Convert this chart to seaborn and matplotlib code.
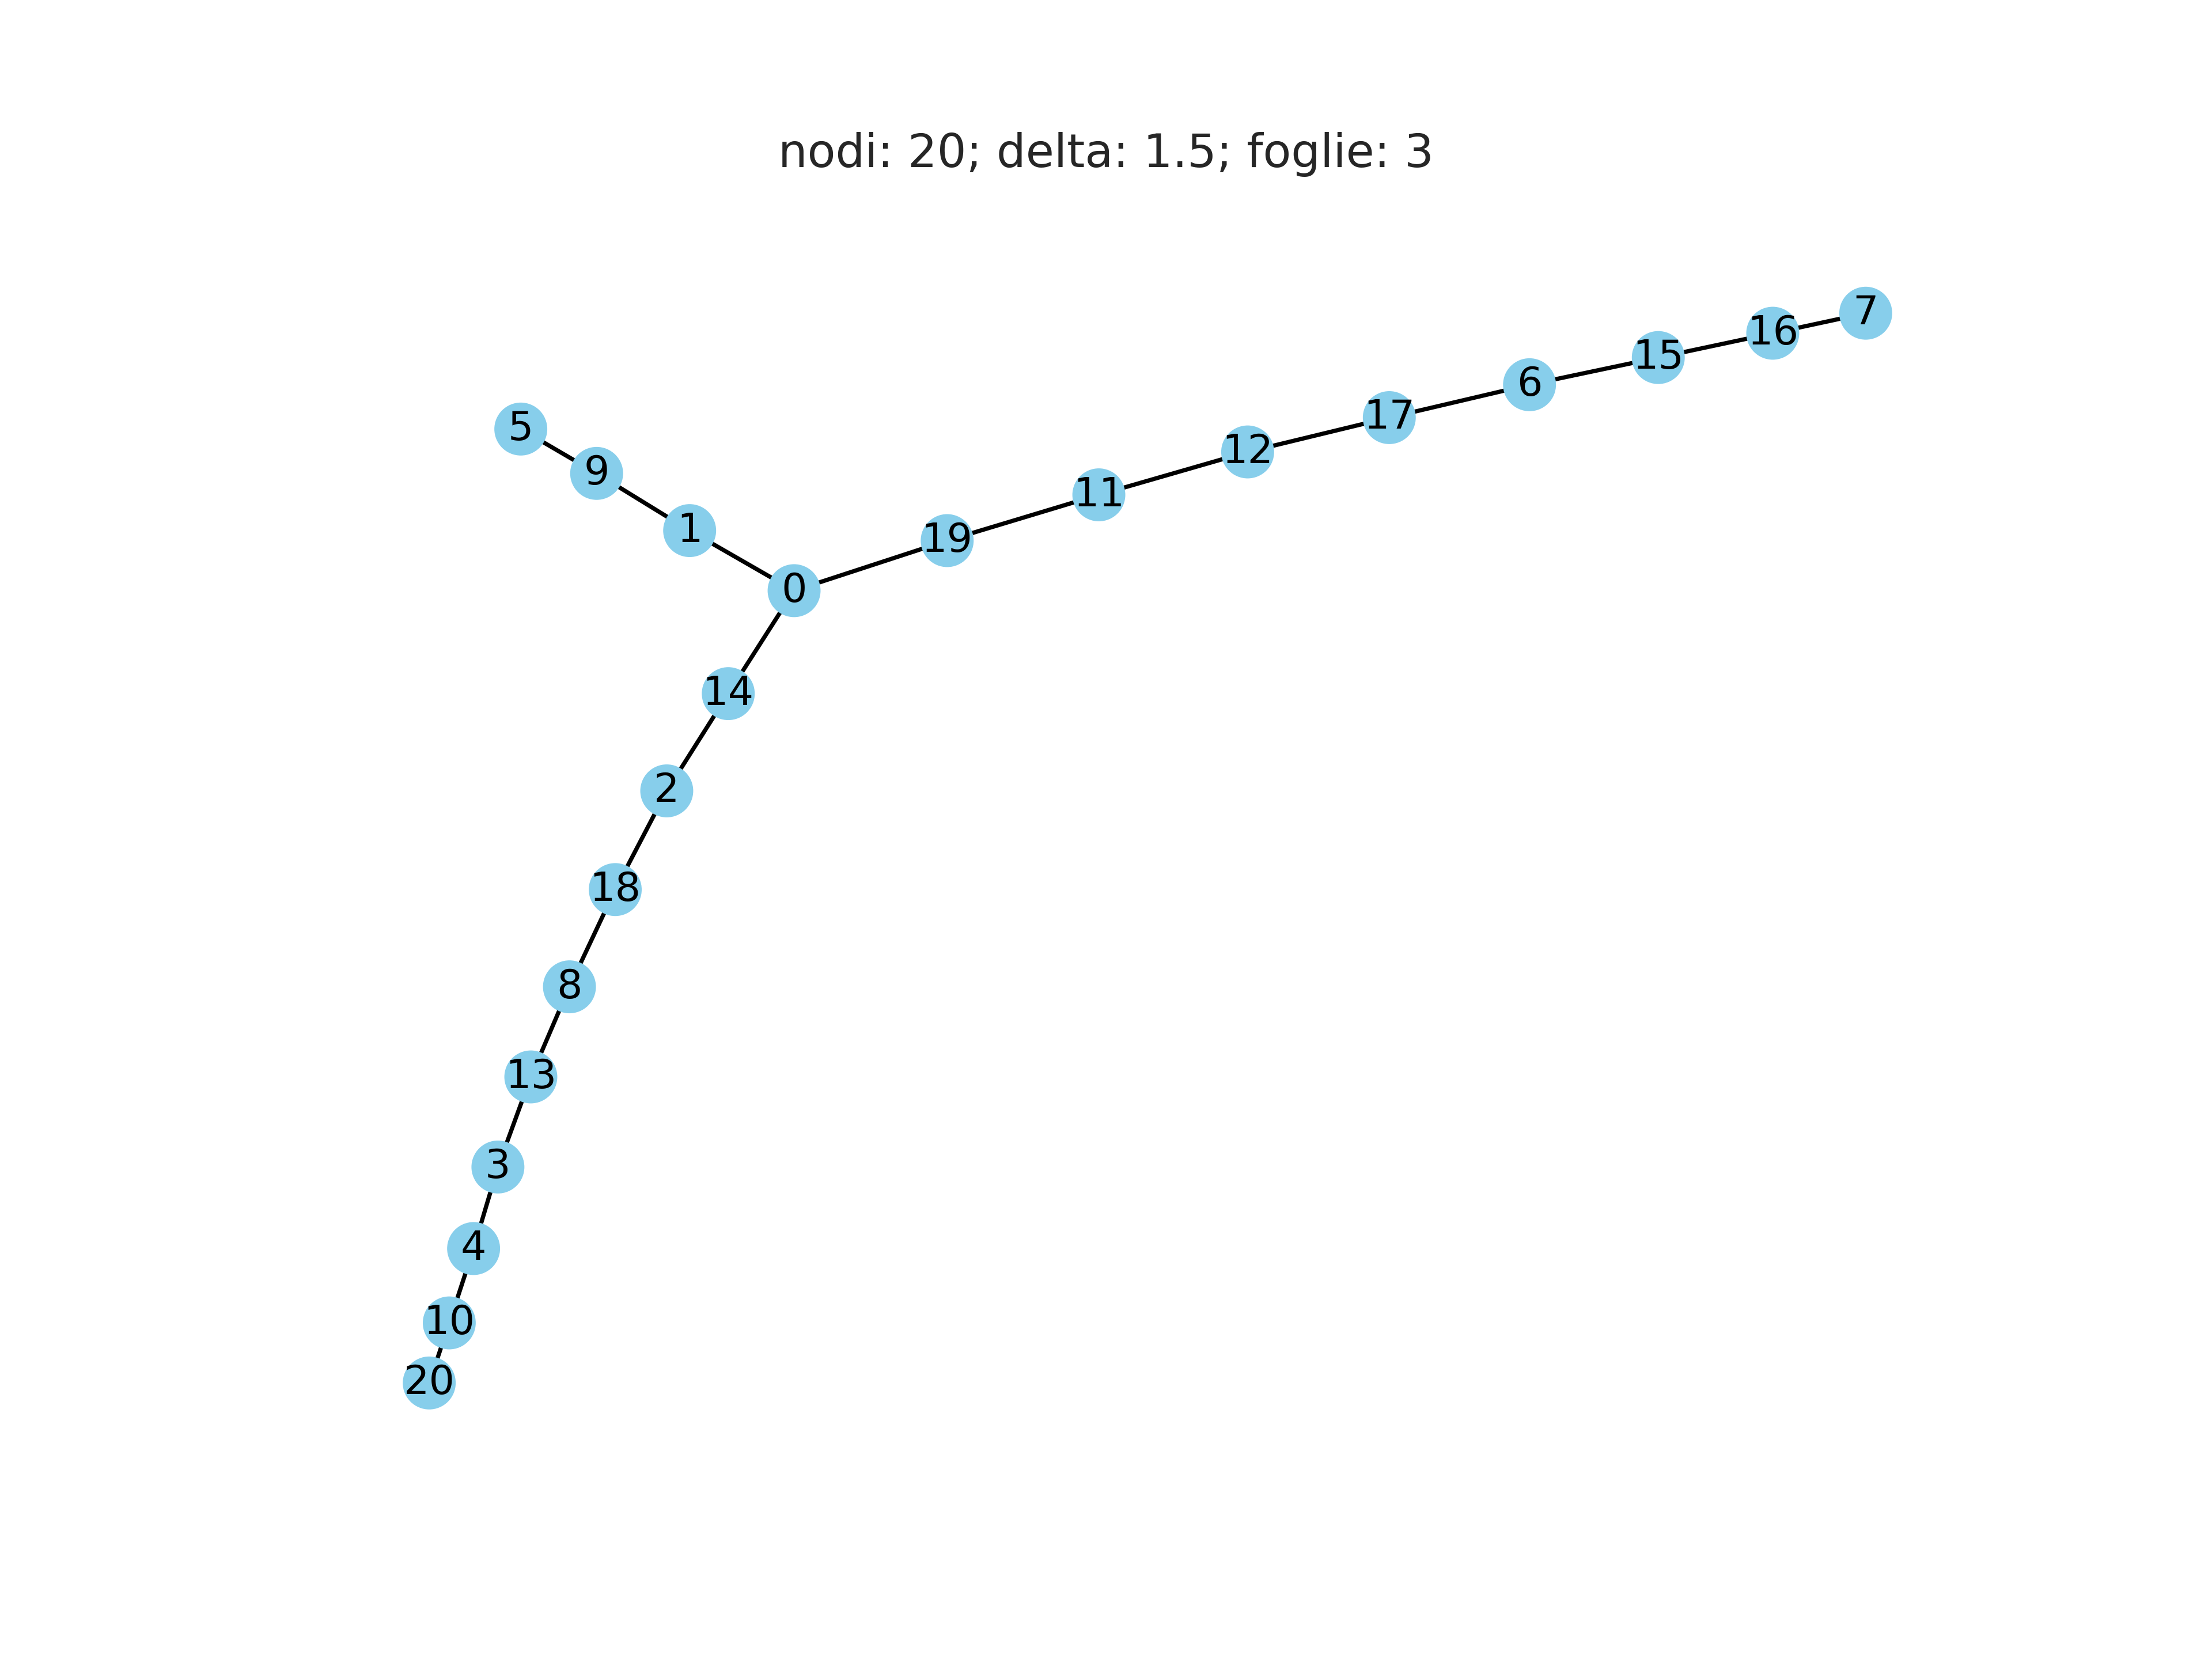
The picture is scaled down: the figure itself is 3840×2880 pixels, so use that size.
import matplotlib
matplotlib.use("Agg")
import matplotlib.pyplot as plt
import seaborn as sns
import pandas as pd

nodes = [0, 1, 9, 5, 19, 11, 12, 17, 6, 15, 16, 7, 14, 2, 18, 8, 13, 3, 4, 10, 20]
xs = [555, 482, 417, 364, 662, 768, 872, 971, 1069, 1159, 1239, 1304, 509, 466, 430, 398, 371, 348, 331, 314, 300]
ys = [413, 371, 331, 300, 378, 346, 316, 292, 269, 250, 233, 219, 485, 553, 622, 690, 753, 816, 873, 925, 967]
edges = [(5, 9), (9, 1), (1, 0), (0, 19), (19, 11), (11, 12), (12, 17), (17, 6), (6, 15), (15, 16), (16, 7),
         (0, 14), (14, 2), (2, 18), (18, 8), (8, 13), (13, 3), (3, 4), (4, 10), (10, 20)]
title = "nodi: 20; delta: 1.5; foglie: 3"

df = pd.DataFrame({"node": nodes, "x": xs, "y": ys})
pos = {n: (x, y) for n, x, y in zip(nodes, xs, ys)}

sns.set_style("white")
fig = plt.figure(figsize=(16, 12), dpi=240)
ax = fig.add_axes([0, 0, 1, 1])
for a, b in edges:
    ax.plot([pos[a][0], pos[b][0]], [pos[a][1], pos[b][1]], color="black", lw=2.2, zorder=1)
sns.scatterplot(data=df, x="x", y="y", s=760, color="#87ceeb", edgecolor="none", ax=ax, zorder=2)
for n, x, y in zip(nodes, xs, ys):
    ax.text(x, y, str(n), ha="center", va="center", fontsize=21, color="black", zorder=3)
ax.set_xlim(0, 1546)
ax.set_ylim(1160, 0)
ax.axis("off")
fig.text(0.5, 1 - 108 / 1160, title, ha="center", va="center", fontsize=24)
fig.savefig("out.png", dpi=240)
